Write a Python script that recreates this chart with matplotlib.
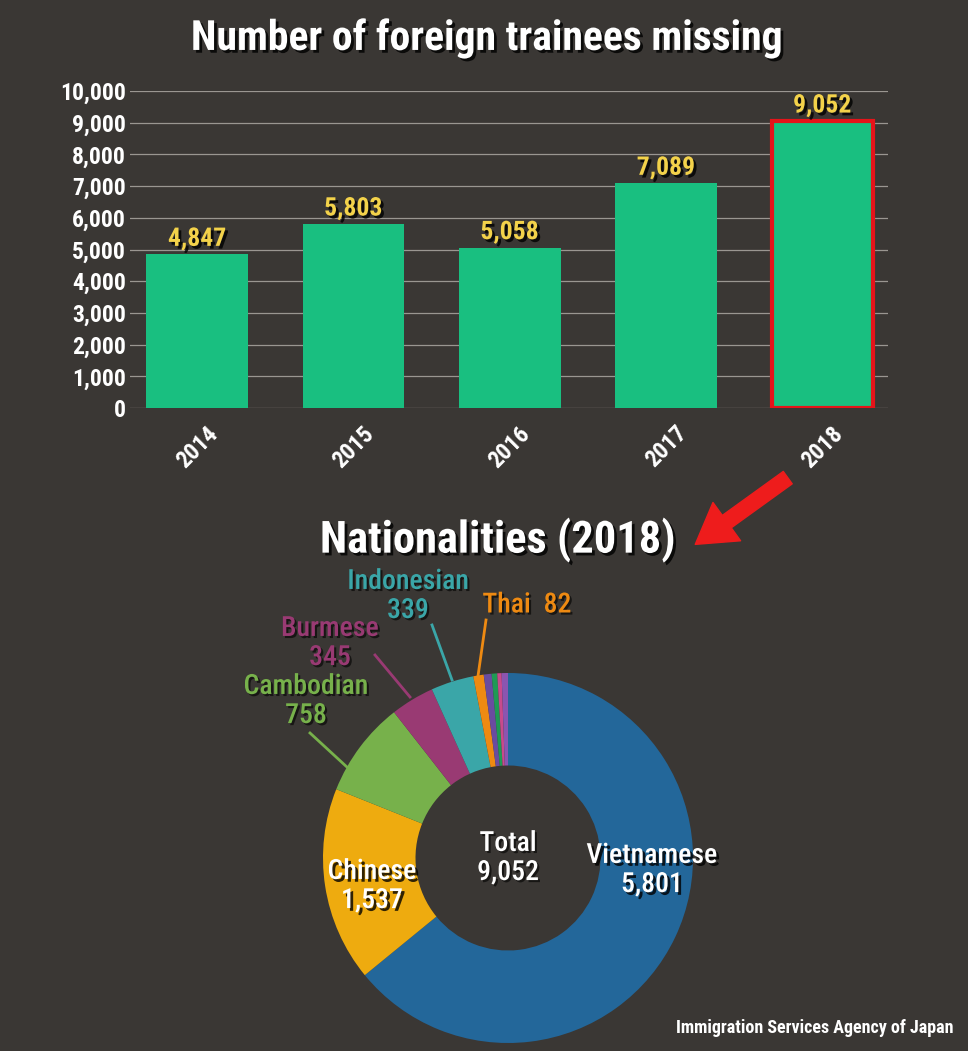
import numpy as np
import matplotlib
matplotlib.use("Agg")
import matplotlib.pyplot as plt
import matplotlib.patheffects as pe
from matplotlib.patches import FancyArrowPatch
from matplotlib.transforms import IdentityTransform

# data
years = ["2014", "2015", "2016", "2017", "2018"]
missing = [4847, 5803, 5058, 7089, 9052]

nationalities = ["Vietnamese", "Chinese", "Cambodian", "Burmese", "Indonesian", "Thai",
                 "Other 1", "Other 2", "Other 3", "Other 4"]
counts = [5801, 1537, 758, 345, 339, 82, 62, 44, 34, 50]
colors = ["#23679a", "#eeab0f", "#77b14b", "#993a73", "#3aa6a8", "#ee8a12",
          "#6a4ca0", "#1f9a55", "#c84a8c", "#8b55b0"]

BG = "#3a3734"
FONT = ["Roboto Condensed", "Liberation Sans Narrow", "DejaVu Sans"]
plt.rcParams["font.family"] = FONT
plt.rcParams["font.weight"] = "bold"

W, H = 968, 1051
fig = plt.figure(figsize=(W / 100, H / 100), dpi=100, facecolor=BG)

def px(x, y):
    # pixel (from top-left) -> figure fraction
    return x / W, 1 - y / H

shadow = [pe.withSimplePatchShadow(offset=(2, -2), shadow_rgbFace="black", alpha=0.8)]
soft = [pe.withSimplePatchShadow(offset=(1.5, -1.5), shadow_rgbFace="black", alpha=0.6)]

# ---- bar chart ----
l, b = px(130, 408)
r, t = px(888, 91)
ax = fig.add_axes([l, b, r - l, t - b], facecolor=BG)
xpos = np.arange(len(years))
bars = ax.bar(xpos, missing, width=0.65, color="#19bf80", zorder=3)
bars[-1].set_edgecolor("#e5141a")
bars[-1].set_linewidth(3)
ax.set_xlim(-0.43, 4.42)
ax.set_ylim(0, 10000)
ax.set_yticks(np.arange(0, 10001, 1000))
ax.set_yticklabels([f"{v:,}" for v in range(0, 10001, 1000)], fontsize=17, color="white")
ax.set_xticks(xpos)
ax.set_xticklabels(years, rotation=45, ha="center", va="top", fontsize=17, color="white")
ax.tick_params(axis="y", length=0, pad=3)
ax.tick_params(axis="x", length=0, pad=10)
ax.grid(axis="y", color="#9a9691", linewidth=0.9, zorder=0)
for s in ax.spines.values():
    s.set_visible(False)
for xi, v in zip(xpos, missing):
    ax.text(xi, v + 110, f"{v:,}", ha="center", va="bottom", fontsize=18.5,
            color="#f3d24a", path_effects=shadow)

fig.text(*px(487, 38), "Number of foreign trainees missing", ha="center", va="center",
         fontsize=30, color="white", path_effects=shadow)
fig.text(*px(498, 540), "Nationalities (2018)", ha="center", va="center",
         fontsize=32, color="white", path_effects=shadow)

# red arrow
arrow = FancyArrowPatch((790, H - 476), (693, H - 546), transform=IdentityTransform(),
                        arrowstyle="simple,head_width=1.7,head_length=1.4,tail_width=0.55",
                        mutation_scale=20, color="#ee1c1c", zorder=10)
fig.add_artist(arrow)

# ---- donut ----
cx, cy, R = 508, 858, 185
pl, pb = px(cx - R, cy + R)
pax = fig.add_axes([pl, pb, 2 * R / W, 2 * R / H])
pax.pie(counts, colors=colors, startangle=90, counterclock=False,
        wedgeprops=dict(width=0.5, edgecolor="none"))
pax.set_xlim(-1, 1)
pax.set_ylim(-1, 1)
pax.set_aspect("equal")
pax.axis("off")

def d(x, y):
    return (x - cx) / R, (cy - y) / R

pax.text(*d(508, 858), "Total\n9,052", ha="center", va="center", fontsize=20,
         color="white", fontweight="medium", linespacing=1.1, path_effects=soft)
pax.text(*d(652, 870), "Vietnamese\n5,801", ha="center", va="center", fontsize=20,
         color="white", fontweight="medium", linespacing=1.1, path_effects=shadow)
pax.text(*d(372, 886), "Chinese\n1,537", ha="center", va="center", fontsize=20,
         color="white", fontweight="medium", linespacing=1.1, path_effects=shadow)

outer = [("Cambodian\n758", (306, 701), colors[2], (310, 733), (348, 768)),
         ("Burmese\n345", (330, 643), colors[3], (375, 655), (410, 697)),
         ("Indonesian\n339", (408, 596), colors[4], (432, 625), (452, 680)),
         ("Thai  82", (527, 605), colors[5], (486, 620), (478, 676))]
for txt, pos, c, p0, p1 in outer:
    pax.text(*d(*pos), txt, ha="center", va="center", fontsize=20, color=c,
             fontweight="medium", linespacing=1.1, clip_on=False, path_effects=soft)
    x0, y0 = d(*p0)
    x1, y1 = d(*p1)
    pax.plot([x0, x1], [y0, y1], color=c, lw=2, clip_on=False)

fig.text(*px(953, 1028), "Immigration Services Agency of Japan", ha="right", va="center",
         fontsize=13, color="white")

fig.savefig("out.png", dpi=100, facecolor=BG)
